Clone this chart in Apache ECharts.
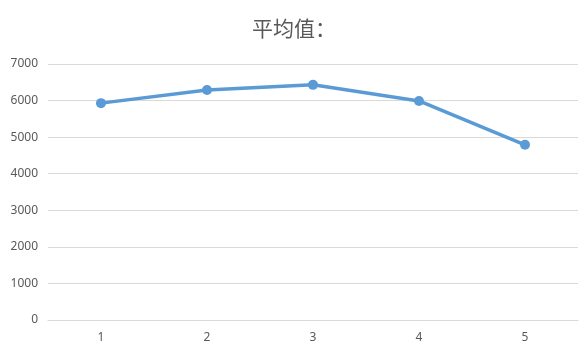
<!DOCTYPE html>
<html lang="zh">
<head>
    <meta charset="utf-8" />
    <title>平均值</title>
    <script src="https://cdn.jsdelivr.net/npm/echarts@6/dist/echarts.min.js"></script>
    <style>
        html, body { margin: 0; padding: 0; background: #fff; }
        #main { width: 588px; height: 353px; }
    </style>
</head>
<body>
    <div id="main"></div>
    <script>
        var categories = ['1', '2', '3', '4', '5'];
        var avgValues = [5930, 6290, 6430, 5990, 4790];

        var myChart = echarts.init(document.getElementById('main'));
        var option = {
            animation: false,
            title: {
                text: '平均值：',
                left: 'center',
                top: 13,
                textStyle: {
                    fontFamily: 'Noto Sans CJK SC',
                    fontSize: 21,
                    fontWeight: 'normal',
                    color: '#595959'
                }
            },
            grid: {
                left: 48,
                right: 10,
                top: 64,
                bottom: 33
            },
            xAxis: {
                type: 'category',
                data: categories,
                boundaryGap: true,
                axisLine: { lineStyle: { color: '#d9d9d9' } },
                axisTick: { show: false },
                axisLabel: {
                    color: '#595959',
                    fontSize: 12,
                    fontFamily: 'Noto Sans',
                    margin: 12
                }
            },
            yAxis: {
                type: 'value',
                min: 0,
                max: 7000,
                interval: 1000,
                axisLine: { show: false },
                axisTick: { show: false },
                axisLabel: {
                    color: '#595959',
                    fontSize: 12,
                    fontFamily: 'Noto Sans',
                    margin: 10,
                    formatter: function (v) { return String(v); }
                },
                splitLine: { lineStyle: { color: '#d9d9d9' } }
            },
            series: [
                {
                    name: '平均值',
                    type: 'line',
                    data: avgValues,
                    symbol: 'circle',
                    symbolSize: 10,
                    itemStyle: { color: '#5b9bd5' },
                    lineStyle: { width: 3.5, color: '#5b9bd5' }
                }
            ]
        };
        myChart.setOption(option);
    </script>
</body>
</html>
